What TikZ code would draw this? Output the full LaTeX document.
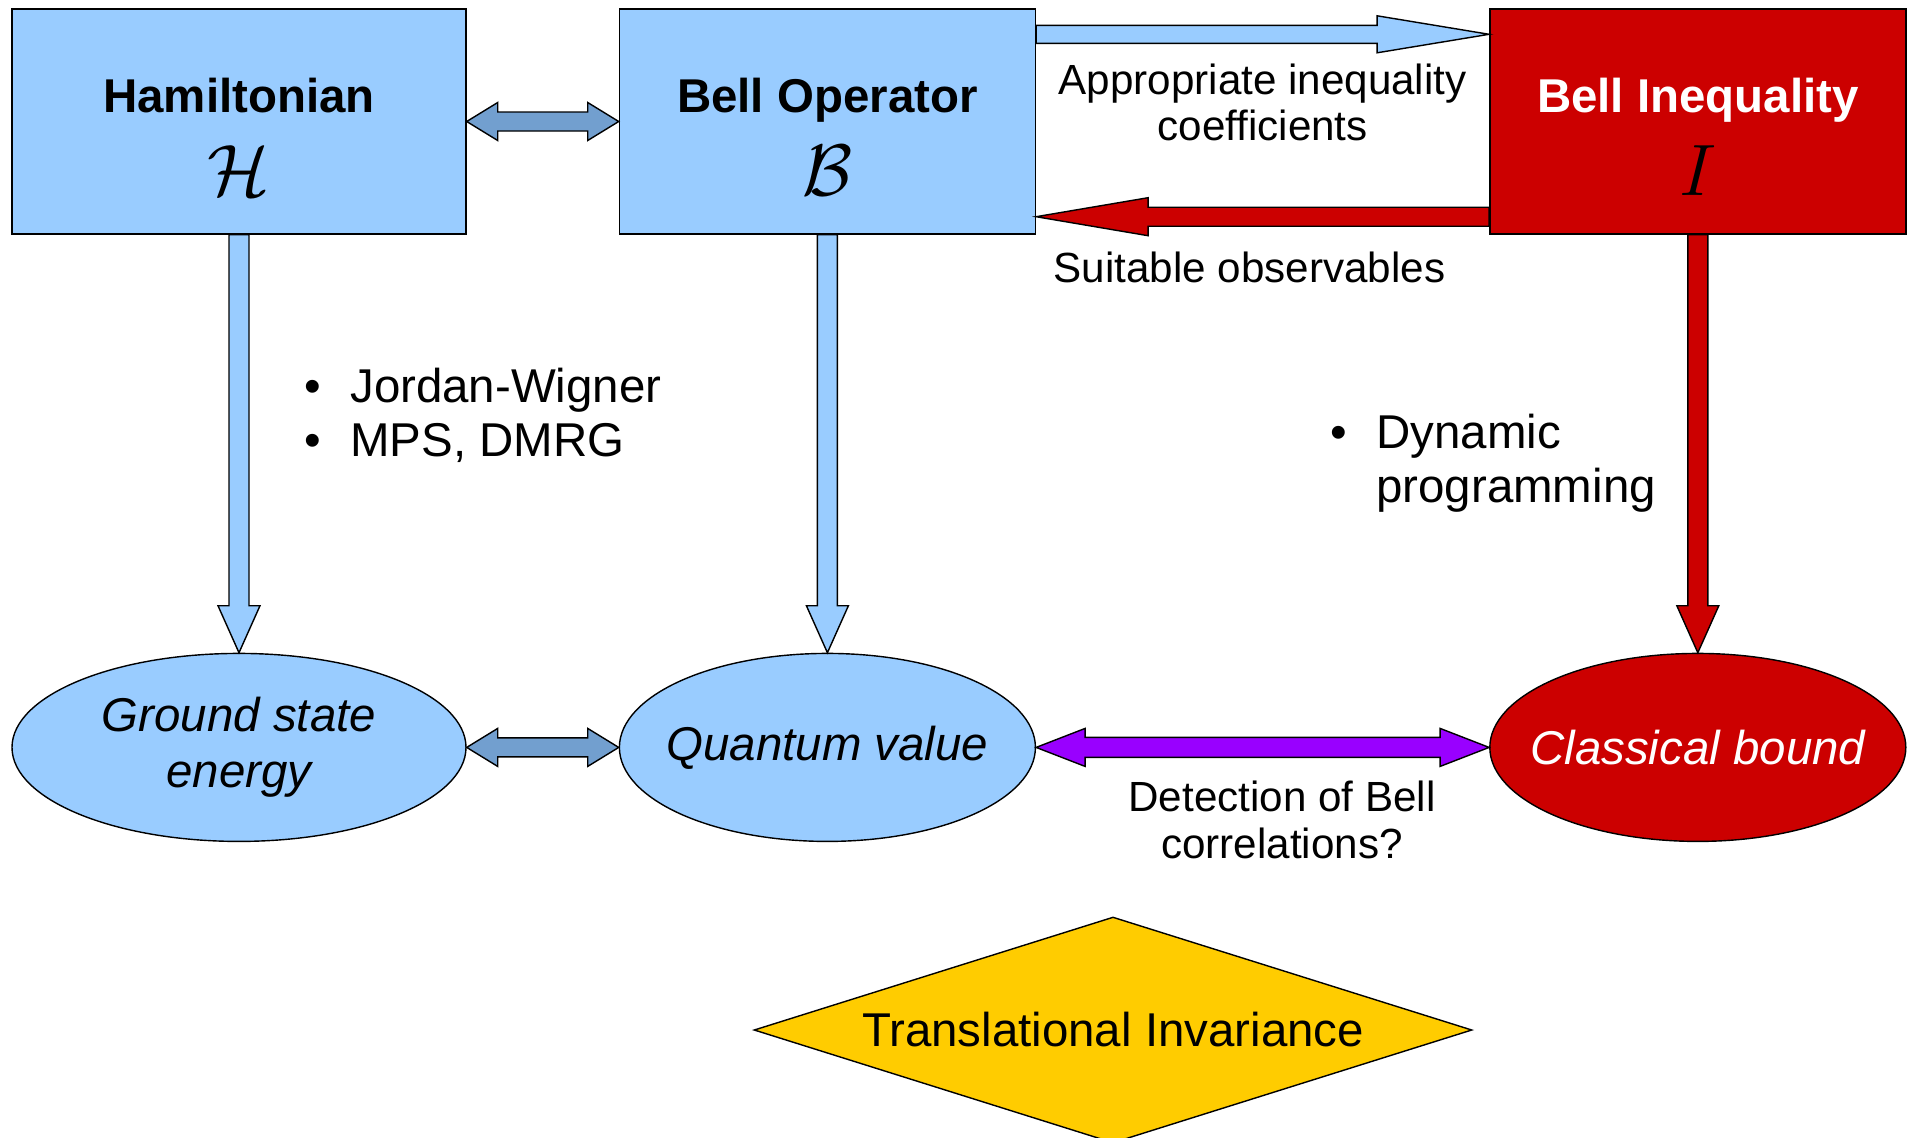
\documentclass[tikz,border=0pt]{standalone}
\usepackage{fontspec}
\setmainfont{Liberation Sans}
\usepackage{xcolor}
\usepackage{tikz}
\usetikzlibrary{shapes.geometric,positioning,calc}

\definecolor{skyfill}{HTML}{99CCFF}
\definecolor{linkblue}{HTML}{729FCF}
\definecolor{bellred}{HTML}{CC0000}
\definecolor{detectviolet}{HTML}{9900FF}
\definecolor{invgold}{HTML}{FFCC00}

\tikzstyle{box}=[
draw,
line width=0.4pt,
minimum width=4.16cm,
minimum height=2.25cm,
inner sep=0pt,
align=center,
text height=1.47cm,
text depth=0pt,
fill=skyfill,
font=\fontsize{13.5}{23.6}\selectfont\bfseries
]
\tikzstyle{oval}=[
draw,
ellipse,
line width=0.4pt,
minimum width=4.16cm,
minimum height=1.88cm,
inner xsep=-0.3cm,
inner ysep=0pt,
align=center,
fill=skyfill,
font=\fontsize{13.5}{16}\selectfont\itshape
]
\tikzstyle{note}=[
inner sep=0pt,
align=center,
font=\fontsize{12}{13.2}\selectfont
]
\tikzstyle{bullets}=[
inner sep=0pt,
align=left,
anchor=north west,
font=\fontsize{13.5}{15.4}\selectfont
]
\tikzstyle{barrow}=[
draw,
line width=0.4pt
]

\newcommand{\bigsym}[1]{{\fontsize{21}{21}\selectfont$#1$}}

% block arrow: style, from, to, half shaft, half head, head length
\newcommand{\singlearrow}[6]{%
\coordinate (ar-s) at (#2);
\coordinate (ar-e) at (#3);
\coordinate (ar-h) at ($(ar-e)!#6!(ar-s)$);
\draw[barrow,#1] ($(ar-s)!#4!90:(ar-e)$) -- ($(ar-h)!#4!-90:(ar-s)$)
  -- ($(ar-h)!#5!-90:(ar-s)$) -- (ar-e) -- ($(ar-h)!#5!90:(ar-s)$)
  -- ($(ar-h)!#4!90:(ar-s)$) -- ($(ar-s)!#4!-90:(ar-e)$) -- cycle;
}
% same with a head on both ends
\newcommand{\doublearrow}[6]{%
\coordinate (ar-s) at (#2);
\coordinate (ar-e) at (#3);
\coordinate (ar-g) at ($(ar-s)!#6!(ar-e)$);
\coordinate (ar-h) at ($(ar-e)!#6!(ar-s)$);
\draw[barrow,#1] (ar-s) -- ($(ar-g)!#5!90:(ar-e)$) -- ($(ar-g)!#4!90:(ar-e)$)
  -- ($(ar-h)!#4!-90:(ar-s)$) -- ($(ar-h)!#5!-90:(ar-s)$) -- (ar-e)
  -- ($(ar-h)!#5!90:(ar-s)$) -- ($(ar-h)!#4!90:(ar-s)$)
  -- ($(ar-g)!#4!-90:(ar-e)$) -- ($(ar-g)!#5!-90:(ar-e)$) -- cycle;
}

\begin{document}
\begin{tikzpicture}

\fill[white] (0,0) rectangle (19.11,-11.37);
\useasboundingbox (0,0) rectangle (19.11,-11.37);
\clip (0,0) rectangle (19.11,-11.37);

\node (ham) [box, minimum width=4.54cm] at (2.39,-1.215) {Hamiltonian\\\bigsym{\mathcal{H}}};
\node (bop) [box, right=1.52cm of ham] {Bell Operator\\\bigsym{\mathcal{B}}};
\node (bin) [box, fill=bellred, text=white, right=4.53cm of bop] {Bell Inequality\\{\color{black}\bigsym{I}}};

\node (gse) [oval, minimum width=4.54cm, below=4.18cm of ham] {Ground state\\energy};
\node (qv) [oval, below=4.18cm of bop] {Quantum value};
\node (cb) [oval, fill=bellred, text=white, below=4.18cm of bin] {Classical bound};

\node (ti) [diamond, draw, line width=0.4pt, fill=invgold, aspect=3.18, inner sep=0pt,
  minimum width=7.18cm, minimum height=2.26cm, font=\fontsize{13.5}{16}\selectfont]
  at (11.13,-10.30) {Translational Invariance};

\doublearrow{fill=linkblue}{ham.east}{bop.west}{0.095cm}{0.19cm}{0.31cm}
\doublearrow{fill=linkblue}{gse.east}{qv.west}{0.095cm}{0.19cm}{0.31cm}
\doublearrow{fill=detectviolet}{qv.east}{cb.west}{0.10cm}{0.19cm}{0.49cm}

\singlearrow{fill=skyfill}{$(bop.north east)+(0,-0.26)$}{$(bin.north west)+(0,-0.26)$}{0.09cm}{0.185cm}{1.12cm}
\singlearrow{fill=bellred}{$(bin.south west)+(0,0.18)$}{$(bop.south east)+(0,0.18)$}{0.095cm}{0.19cm}{1.12cm}

\singlearrow{fill=skyfill}{ham.south}{gse.north}{0.10cm}{0.21cm}{0.47cm}
\singlearrow{fill=skyfill}{bop.south}{qv.north}{0.10cm}{0.21cm}{0.47cm}
\singlearrow{fill=bellred}{bin.south}{cb.north}{0.10cm}{0.21cm}{0.47cm}

\node (coef) [note] at ($($(bop.east)!0.5!(bin.west)$)+(0,0.19)$) {Appropriate inequality\\coefficients};
\node (obs) [note, anchor=west] at (10.53,-2.675) {Suitable observables};
\node (det) [note] at (12.82,-8.20) {Detection of Bell\\correlations?};

\node (jw) [bullets] at (3.04,-3.67) {\textbullet\hspace{0.29cm}Jordan-Wigner\\\textbullet\hspace{0.29cm}MPS, DMRG};
\node (dp) [bullets] at (13.30,-4.13) {\textbullet\hspace{0.29cm}Dynamic\\\phantom{\textbullet}\hspace{0.29cm}programming};

\end{tikzpicture}
\end{document}
